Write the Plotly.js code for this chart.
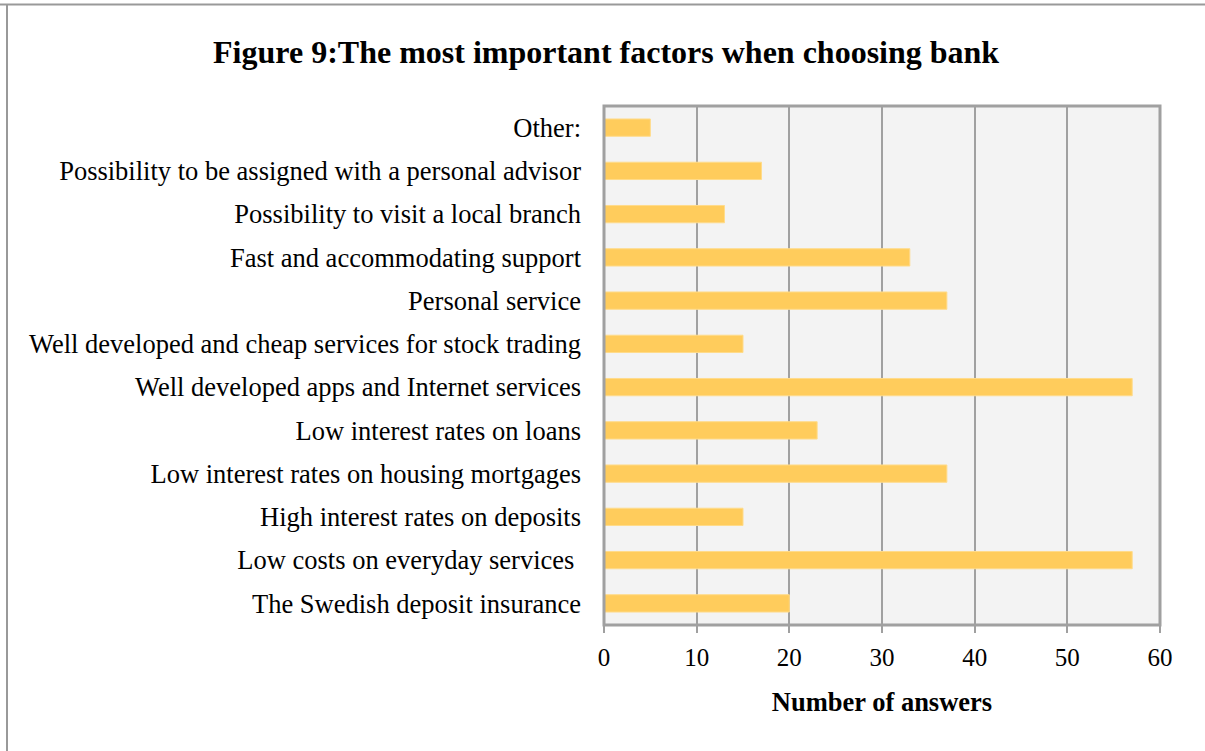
<!DOCTYPE html>
<html>
<head>
<meta charset="utf-8">
<script src="https://cdn.plot.ly/plotly-3.0.1.min.js"></script>
<style>html,body{margin:0;padding:0;background:#fff;}#chart{width:1205px;height:751px;}</style>
</head>
<body>
<div id="chart"></div>
<script>
const categories = [
  "The Swedish deposit insurance",
  "Low costs on everyday services\u00a0",
  "High interest rates on deposits",
  "Low interest rates on housing mortgages",
  "Low interest rates on loans",
  "Well developed apps and Internet services",
  "Well developed and cheap services for stock trading",
  "Personal service",
  "Fast and accommodating support",
  "Possibility to visit a local branch",
  "Possibility to be assigned with a personal advisor",
  "Other:"
];
const answers = [20, 57, 15, 37, 23, 57, 15, 37, 33, 13, 17, 5];
const xTicks = [0, 10, 20, 30, 40, 50, 60];

const font = "Liberation Serif, Times New Roman, serif";
const W = 556, H = 519;

Plotly.newPlot("chart", [{
  type: "bar",
  orientation: "h",
  y: categories,
  x: answers,
  width: 0.4,
  marker: {color: "#FFCC5C", line: {color: "#FFDB8A", width: 1}},
  hoverinfo: "x+y"
}], {
  width: 1205, height: 751,
  margin: {l: 604, r: 45, t: 106, b: 126},
  paper_bgcolor: "#ffffff",
  plot_bgcolor: "#F3F3F3",
  showlegend: false,
  title: {text: "<b>Figure 9:The most important factors when choosing bank</b>",
          font: {family: font, size: 32, color: "#000"}, x: 0.503, xanchor: "center", y: 0.931, yanchor: "middle"},
  xaxis: {
    range: [0, 60], tickvals: xTicks, ticktext: xTicks.map(String),
    showgrid: true, gridcolor: "#A0A0A0", gridwidth: 2,
    zeroline: false, showline: false,
    ticks: "outside", ticklen: 7, tickwidth: 2, tickcolor: "#A0A0A0",
    ticklabelstandoff: 3,
    tickfont: {family: font, size: 25, color: "#000"},
    title: {text: "<b>Number of answers</b>", font: {family: font, size: 26.5, color: "#000"}, standoff: 22},
    fixedrange: true
  },
  yaxis: {
    type: "category", automargin: false,
    showgrid: false, zeroline: false, showline: false,
    ticks: "", ticklabelstandoff: 22,
    tickfont: {family: font, size: 26.5, color: "#000"},
    fixedrange: true
  },
  shapes: [
    {type: "rect", xref: "paper", yref: "paper", x0: 0, x1: 1, y0: 0, y1: 1,
     line: {color: "#A0A0A0", width: 3}, fillcolor: "rgba(0,0,0,0)"},
    {type: "line", xref: "paper", yref: "paper", x0: -604/W, x1: 1+45/W, y0: 1+101.5/H, y1: 1+101.5/H,
     line: {color: "#999999", width: 2}},
    {type: "line", xref: "paper", yref: "paper", x0: -597/W, x1: -597/W, y0: 1+101.5/H, y1: -126/H,
     line: {color: "#999999", width: 2}}
  ]
}, {displayModeBar: false});
</script>
</body>
</html>
